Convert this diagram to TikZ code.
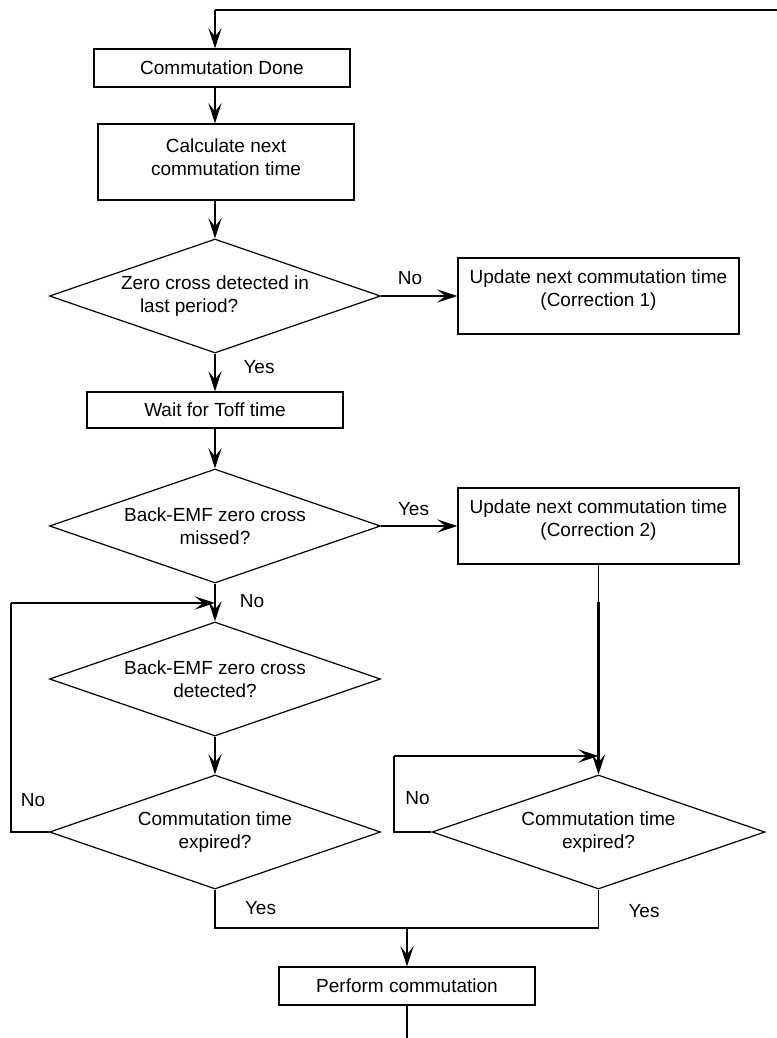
\documentclass[tikz,border=0pt]{standalone}
\usepackage{fontspec}
\setmainfont{Liberation Sans}
\usetikzlibrary{shapes.geometric,arrows.meta,calc}

\begin{document}
\begin{tikzpicture}[x=1bp, y=-1bp,
  font=\fontsize{19bp}{23bp}\selectfont,
  wire/.style={line width=1.2bp},
  flow/.style={line width=2.8bp, -{Stealth[length=20bp,width=13bp,inset=8bp]}},
  box/.style={draw, line width=1.2bp, inner sep=0pt, align=center},
  decision/.style={draw, line width=1.2bp, shape=diamond, aspect=3, inner sep=0pt,
    minimum width=331bp, minimum height=114bp, align=center},
  lbl/.style={inner sep=0pt, align=center},
  tag/.style={inner sep=0pt, anchor=base},
]
\useasboundingbox (0,0) rectangle (777,1038);

% process boxes and decisions
\node[box, minimum width=256bp, minimum height=38bp] (done) at (222,68) {Commutation Done};
\node[box, minimum width=256bp, minimum height=76bp,
  label={[lbl, yshift=5bp]center:Calculate next\\commutation time}] (calc) at (226,162) {};
\node[decision, align=left] (zc) at (215,296) {Zero cross detected in\\\hspace*{19bp}last period?};
\node[box, minimum width=281bp, minimum height=76bp,
  label={[lbl, yshift=6bp]center:Update next commutation time\\(Correction 1)}] (corr1) at (598.5,296) {};
\node[box, minimum width=256bp, minimum height=36bp] (wait) at (215,410) {Wait for Toff time};
\node[decision] (miss) at (215,526) {Back-EMF zero cross\\missed?};
\node[box, minimum width=281bp, minimum height=76bp,
  label={[lbl, yshift=6bp]center:Update next commutation time\\(Correction 2)}] (corr2) at (598.5,526) {};
\node[decision] (det) at (215,679) {Back-EMF zero cross\\detected?};
\node[decision] (expL) at (215,832) {Commutation time\\expired?};
\node[decision, minimum width=333bp] (expR) at (598.5,832) {Commutation time\\expired?};
\node[box, minimum width=256bp, minimum height=38bp] (perf) at (407,986) {Perform commutation};

% routing points
\coordinate (topR) at (777,10);
\coordinate (topL) at (215,10);
\coordinate (loopL) at (11,603);
\coordinate (loopR) at (394,756);
\coordinate (join) at (407,928);
\coordinate (c2mid) at (598.5,602);
\coordinate (exit) at (407,1038);

% connectors
\draw[wire] (topR) -- (topL);
\draw[flow] (topL) -- (topL |- done.north);
\draw[flow] (done.south -| topL) -- (calc.north -| topL);
\draw[flow] (calc.south -| zc) -- (zc.north);
\draw[flow] (zc.east) -- (corr1.west);
\draw[flow] (zc.south) -- (wait.north);
\draw[flow] (wait.south) -- (miss.north);
\draw[flow] (miss.east) -- (corr2.west);
\draw[flow] (miss.south) -- (det.north);
\draw[wire] (corr2.south) -- (c2mid);
\draw[flow] (c2mid) -- (expR.north);
\draw[flow] (det.south) -- (expL.north);
\draw[wire] (expL.west) -| (loopL);
\draw[flow] (loopL) -- (loopL -| det.north);
\draw[wire] (expR.west) -| (loopR);
\draw[flow] (loopR) -- (loopR -| expR.north);
\draw[wire] (expL.south) |- (join -| expR.south) -- (expR.south);
\draw[flow] (join) -- (perf.north);
\draw[wire] (perf.south) -- (exit);

% branch labels
\node[tag] (noA) at (410,284) {No};
\node[tag] (yesA) at (259,373) {Yes};
\node[tag] (yesB) at (413.5,515) {Yes};
\node[tag] (noB) at (252,607) {No};
\node[tag] (noC) at (33,806) {No};
\node[tag] (yesC) at (260.5,914) {Yes};
\node[tag] (noD) at (417.5,804) {No};
\node[tag] (yesD) at (644,917) {Yes};
\end{tikzpicture}
\end{document}
